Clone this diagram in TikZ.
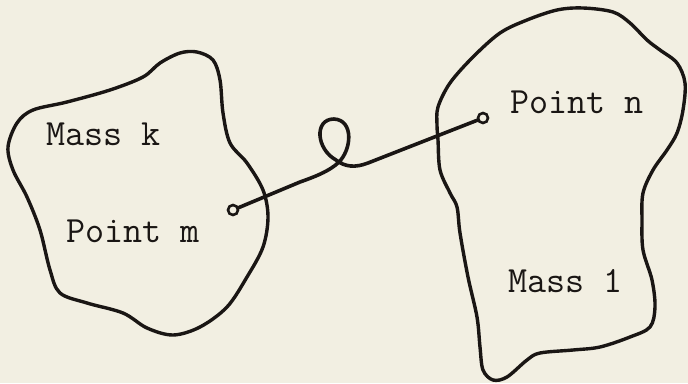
\documentclass[tikz,border=0pt]{standalone}
\usepackage{xcolor}
\usetikzlibrary{positioning}
\definecolor{paper}{HTML}{F2EFE2}
\definecolor{ink}{HTML}{1A1614}

\begin{document}
\begin{tikzpicture}[
  x=1pt, y=-1pt,
  outline/.style={draw=ink, line width=3.4pt, line join=round},
  wire/.style={draw=ink, line width=3.6pt, line cap=round},
  pin/.style={circle, draw=ink, line width=2.6pt, fill=paper, inner sep=0pt, minimum size=10pt},
  label/.style={inner sep=0pt, anchor=base west, text=ink, font=\fontsize{37}{37}\selectfont\ttfamily}
]
\fill[paper] (0,0) rectangle (688,383);
\useasboundingbox (0,0) rectangle (688,383);

% mass k
\draw[outline] plot[smooth cycle, tension=0.55] coordinates {
  (197,52) (213,60) (220,80) (223,113) (230,143) (247,163) (263,190)
  (268,217) (263,247) (247,277) (227,307) (200,327) (173,335) (147,328)
  (123,313) (87,303) (60,293) (50,270) (40,230) (27,197) (13,170)
  (8,147) (17,123) (33,110) (67,102) (110,90) (143,77) (160,63) (180,53)};

% mass l
\draw[outline] plot[smooth cycle, tension=0.55] coordinates {
  (438,107) (450,83) (473,57) (500,33) (527,20) (557,10) (583,8)
  (613,12) (630,23) (647,40) (660,50) (677,63) (685,83) (683,110)
  (677,133) (667,150) (653,170) (643,193) (642,220) (643,250) (652,280)
  (655,307) (650,327) (630,337) (600,347) (573,350) (540,353) (527,360)
  (507,377) (493,380) (483,370) (480,347) (477,317) (468,277) (460,233)
  (457,207) (450,193) (440,170) (438,140) (437,125)};

\node[label] (massk) at (46,145) {Mass k};
\node[label] (pointm) at (66,242) {Point m};
\node[label] (pointn) at (510,113) {Point n};
\node[label] (massl) at (508,292) {Mass 1};

\node[pin] (pm) at (233,210) {};
\node[pin] (pn) at (483,118) {};

% spring between the two points
\draw[wire] (pm) -- (300,182)
  .. controls (320,175) and (330,170) .. (338,163)
  .. controls (352,150) and (354,120) .. (334,119)
  .. controls (314,119) and (316,149) .. (336,160)
  .. controls (345,167) and (355,168) .. (368,163)
  -- (pn);
\end{tikzpicture}
\end{document}
